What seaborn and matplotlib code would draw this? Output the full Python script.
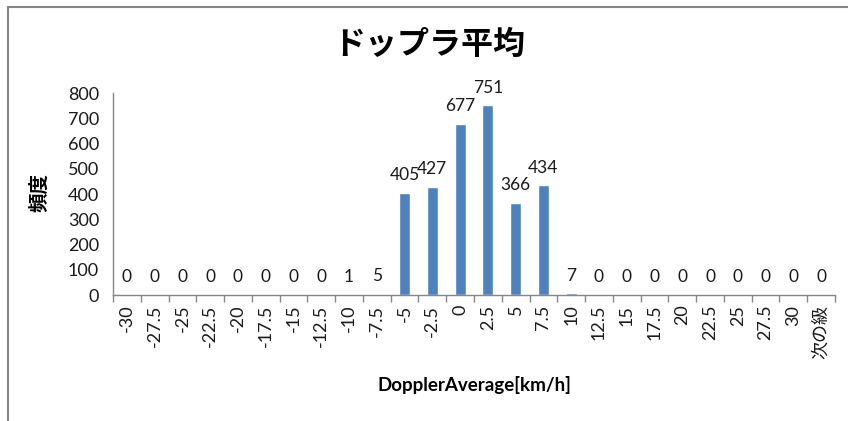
import matplotlib
matplotlib.use("Agg")
import matplotlib.pyplot as plt
import seaborn as sns
import pandas as pd
import numpy as np
from matplotlib.lines import Line2D

categories = ["-30", "-27.5", "-25", "-22.5", "-20", "-17.5", "-15", "-12.5", "-10", "-7.5",
              "-5", "-2.5", "0", "2.5", "5", "7.5", "10", "12.5", "15", "17.5", "20",
              "22.5", "25", "27.5", "30", "次の級"]
counts = [0, 0, 0, 0, 0, 0, 0, 0, 1, 5, 405, 427, 677, 751, 366, 434, 7,
          0, 0, 0, 0, 0, 0, 0, 0, 0]
yticks = [0, 100, 200, 300, 400, 500, 600, 700, 800]
title = "ドップラ平均"
xlabel = "DopplerAverage[km/h]"
ylabel = "頻度"

sns.set_theme(style="white")
plt.rcParams['font.family'] = ['Lato', 'Noto Sans CJK JP', 'DejaVu Sans']

df = pd.DataFrame({"cat": categories, "count": counts})

fig = plt.figure(figsize=(8.48, 4.21), dpi=100)
ax = fig.add_axes([113/848, 1-295/421, (835-113)/848, (295-93)/421])

sns.barplot(data=df, x="cat", y="count", color="#4F81BD", width=0.4,
            saturation=1, ax=ax, order=categories)

txtc = "#1a1a1a"
fs = 12.5

ax.set_ylim(0, 800)
ax.set_xlim(-0.5, len(categories) - 0.5)
ax.set_yticks(yticks)
ax.set_yticklabels([str(v) for v in yticks], fontsize=13, color=txtc)

ax.set_xticks(range(len(categories)))
ax.set_xticklabels(categories, rotation=90, fontsize=13, color=txtc)
ax.set_xticks(np.arange(-0.5, len(categories)), minor=True)
ax.tick_params(axis='x', which='major', length=0, pad=7)
ax.tick_params(axis='x', which='minor', length=5, color="#868686", width=1,
               direction='out', bottom=True)
ax.tick_params(axis='y', which='major', length=5, color="#868686", width=1,
               direction='out', pad=5)

for s in ["top", "right"]:
    ax.spines[s].set_visible(False)
for s in ["left", "bottom"]:
    ax.spines[s].set_color("#868686")
    ax.spines[s].set_linewidth(1)

for i, v in enumerate(counts):
    ax.annotate(str(v), (i, v), xytext=(0, 7), textcoords="offset points",
                ha="center", va="bottom", fontsize=fs, color=txtc)

ax.set_xlabel("")
ax.set_ylabel("")

fig.text(429/848, 1-45/421, title, ha="center", va="center", fontsize=23,
         fontweight="bold", color="black", family=['Noto Sans CJK JP'])
fig.text(40/848, 1-193/421, ylabel, ha="center", va="center", fontsize=14,
         fontweight="bold", rotation=90, color="black", family=['Noto Sans CJK JP'])
fig.text(474/848, 1-385/421, xlabel, ha="center", va="center", fontsize=13.5,
         fontweight="bold", color="black")

# chart border (Excel-like)
fig.add_artist(Line2D([8/848, 8/848], [0, 1-7/421], transform=fig.transFigure,
                      color="#868686", linewidth=1.5))
fig.add_artist(Line2D([8/848, 1], [1-7/421, 1-7/421], transform=fig.transFigure,
                      color="#868686", linewidth=1.5))

fig.savefig("out.png", dpi=100)
